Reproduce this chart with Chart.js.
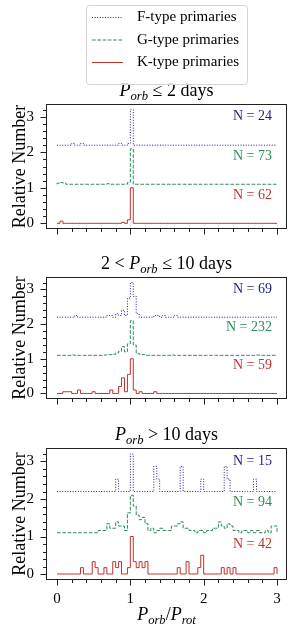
<!DOCTYPE html>
<html>
<head>
<meta charset="utf-8">
<script src="https://cdn.jsdelivr.net/npm/chart.js@4.4.1/dist/chart.umd.min.js"></script>
<style>
  body { margin: 0; background: #fff; }
  #wrap { position: relative; width: 299px; height: 636px; }
  canvas { position: absolute; left: 0; }
</style>
</head>
<body>
<div id="wrap">
  <canvas id="panelShort" width="299" height="250" style="top:0px"></canvas>
  <canvas id="panelMid" width="299" height="170" style="top:250px"></canvas>
  <canvas id="panelLong" width="299" height="216" style="top:420px"></canvas>
</div>
<script>
// bins of P_orb/P_rot, width 0.04 from 0 to 3
const binWidth = 0.04;
const binEdges = Array.from({length: 76}, (_, i) => +(i * binWidth).toFixed(2));
const xTicks = [0, 0.2, 0.4, 0.6, 0.8, 1, 1.2, 1.4, 1.6, 1.8, 2, 2.2, 2.4, 2.6, 2.8, 3];
const yTicks = [0, 0.2, 0.4, 0.6, 0.8, 1, 1.2, 1.4, 1.6, 1.8, 2, 2.2, 2.4, 2.6, 2.8, 3, 3.2];

const seriesLabels = ['F-type primaries', 'G-type primaries', 'K-type primaries'];
const seriesOffsets = [2.2, 1.1, 0];

// P_orb <= 2 days
const fShort = [
  0, 0, 0, 0, 0, 0.05, 0, 0, 0.05, 0, 0, 0, 0, 0, 0,
  0, 0, 0, 0, 0, 0, 0.05, 0, 0, 0.05, 1, 0, 0, 0, 0,
  0, 0, 0, 0, 0, 0, 0, 0, 0, 0, 0, 0, 0, 0, 0,
  0, 0, 0, 0, 0, 0, 0, 0, 0, 0, 0, 0, 0, 0, 0,
  0, 0, 0, 0, 0, 0, 0, 0, 0, 0, 0, 0, 0, 0, 0
];
const gShort = [
  0.03, 0.05, 0.03, 0, 0, 0, 0, 0, 0, 0, 0, 0, 0, 0, 0,
  0, 0, 0.015, 0, 0, 0, 0, 0, 0, 0.05, 1, 0, 0, 0, 0,
  0, 0, 0, 0, 0, 0, 0, 0, 0, 0, 0, 0, 0, 0, 0,
  0, 0, 0, 0, 0, 0, 0, 0, 0, 0, 0, 0, 0, 0, 0,
  0, 0, 0, 0, 0, 0, 0, 0, 0, 0, 0, 0, 0, 0, 0
];
const kShort = [
  0, 0.06, 0, 0, 0, 0, 0, 0, 0, 0, 0, 0, 0, 0, 0,
  0, 0, 0, 0, 0, 0, 0, 0.03, 0, 0.1, 1, 0, 0, 0, 0,
  0, 0, 0, 0, 0, 0, 0, 0, 0, 0, 0, 0, 0, 0, 0,
  0, 0, 0, 0, 0, 0, 0, 0, 0, 0, 0, 0, 0, 0, 0,
  0, 0, 0, 0, 0, 0, 0, 0, 0, 0, 0, 0, 0, 0, 0
];
const countsShort = [24, 73, 62];

// 2 < P_orb <= 10 days
const fMid = [
  0, 0, 0, 0, 0, 0, 0.05, 0, 0, 0, 0, 0, 0, 0, 0,
  0, 0, 0.05, 0.05, 0, 0.1, 0.05, 0.2, 0.05, 0.55, 1, 0.6, 0.1, 0, 0,
  0, 0, 0, 0.05, 0.05, 0, 0.05, 0, 0, 0, 0.05, 0, 0, 0, 0,
  0, 0, 0, 0, 0, 0, 0, 0, 0, 0, 0, 0, 0, 0, 0,
  0, 0, 0, 0, 0, 0, 0, 0, 0, 0, 0, 0, 0, 0, 0
];
const gMid = [
  0, 0, 0, 0, 0, 0.01, 0, 0, 0, 0, 0, 0, 0, 0, 0,
  0, 0.01, 0.02, 0.02, 0.03, 0.07, 0.12, 0.25, 0.1, 0.33, 1, 0.3, 0.06, 0.03, 0.02,
  0, 0, 0, 0, 0, 0, 0, 0, 0, 0.01, 0, 0, 0, 0, 0,
  0, 0, 0, 0, 0, 0, 0, 0, 0, 0, 0, 0, 0, 0, 0,
  0, 0, 0, 0, 0, 0, 0, 0, 0.01, 0, 0, 0, 0, 0, 0
];
const kMid = [
  0, 0, 0.05, 0.05, 0.05, 0, 0, 0.1, 0, 0, 0, 0, 0.05, 0, 0,
  0, 0, 0, 0.1, 0, 0, 0.2, 0.45, 0.05, 0.55, 1, 0.1, 0, 0.05, 0,
  0, 0, 0, 0.05, 0, 0, 0, 0, 0, 0, 0, 0, 0, 0, 0,
  0, 0, 0, 0, 0, 0, 0, 0, 0, 0, 0, 0, 0, 0, 0,
  0, 0, 0, 0, 0, 0, 0, 0, 0, 0, 0, 0, 0, 0, 0
];
const countsMid = [69, 232, 59];

// P_orb > 10 days
const fLong = [
  0, 0, 0, 0, 0, 0, 0, 0, 0, 0, 0, 0, 0, 0, 0,
  0, 0, 0, 0, 0, 0.33, 0, 0, 0, 0, 1, 0, 0, 0, 0,
  0, 0, 0, 0.67, 0.33, 0, 0, 0, 0, 0, 0, 0, 0.67, 0, 0,
  0, 0, 0, 0, 0.33, 0, 0, 0, 0, 0, 0, 0, 0.67, 0.33, 0,
  0, 0, 0, 0, 0, 0, 0, 0.33, 0, 0, 0, 0, 0, 0, 0
];
const gLong = [
  0, 0, 0, 0, 0, 0, 0, 0, 0, 0, 0, 0, 0, 0, 0.06,
  0.06, 0.06, 0.24, 0.12, 0.12, 0.29, 0.18, 0.18, 0.06, 0.53, 1, 0.71, 0.47, 0.35, 0.41,
  0.24, 0.06, 0.12, 0, 0.06, 0.12, 0.06, 0.06, 0.06, 0.18, 0.18, 0.24, 0.29, 0.12, 0.12,
  0.06, 0.06, 0, 0.06, 0.06, 0, 0.06, 0.06, 0.12, 0.12, 0.29, 0.18, 0.12, 0.24, 0.18,
  0.06, 0.06, 0, 0.06, 0.06, 0, 0.06, 0, 0.06, 0, 0, 0.06, 0, 0.18, 0.18
];
const kLong = [
  0, 0, 0, 0, 0, 0, 0, 0, 0.17, 0, 0, 0, 0.33, 0.17, 0,
  0, 0.17, 0, 0, 0.33, 0.17, 0.33, 0, 0, 0.17, 1, 0.33, 0.17, 0.33, 0.17,
  0.33, 0, 0, 0, 0, 0, 0, 0, 0, 0, 0, 0.17, 0, 0, 0.33,
  0, 0, 0, 0.17, 0.5, 0, 0, 0, 0, 0, 0, 0.17, 0, 0.17, 0,
  0.17, 0, 0, 0, 0, 0, 0, 0, 0, 0, 0, 0, 0, 0, 0.17
];
const countsLong = [15, 94, 42];

const colors = ['#1c1c8c', '#2e8b57', '#c4302b'];
const dashes = [[1, 1.6], [3.7, 1.6], []];
const serif = '"Liberation Serif", "DejaVu Serif", "Times New Roman", serif';

Chart.defaults.font.family = serif;
Chart.defaults.color = '#000';

// histogram outline as a step line, starting and ending at the offset baseline
function stepPoints(values, offset) {
    const pts = [{x: binEdges[0], y: offset}];
    values.forEach((v, i) => pts.push({x: binEdges[i], y: v + offset}));
    const last = values.length;
    pts.push({x: binEdges[last], y: values[last - 1] + offset});
    pts.push({x: binEdges[last], y: offset});
    return pts;
}

// mixed italic / subscript text like P_orb
function drawRich(ctx, runs, cx, baseY, size) {
    const fontOf = r => (r.it ? 'italic ' : '') + (r.sub ? size * 0.7 : size) + 'px ' + serif;
    const widths = runs.map(r => { ctx.font = fontOf(r); return ctx.measureText(r.t).width; });
    let xx = cx - widths.reduce((a, b) => a + b, 0) / 2;
    ctx.textAlign = 'left';
    ctx.textBaseline = 'alphabetic';
    ctx.fillStyle = '#000';
    runs.forEach((r, i) => {
        ctx.font = fontOf(r);
        ctx.fillText(r.t, xx, baseY + (r.sub ? size * 0.22 : 0));
        xx += widths[i];
    });
}

const decor = {
    id: 'decor',
    afterDraw(chart, args, opts) {
        const {ctx, chartArea: a, scales: {x, y}} = chart;
        ctx.save();

        // frame
        ctx.strokeStyle = '#222';
        ctx.lineWidth = 1;
        ctx.setLineDash([]);
        ctx.strokeRect(Math.round(a.left) + 0.5, Math.round(a.top) + 0.5,
            Math.round(a.right - a.left) - 1, Math.round(a.bottom - a.top) - 1);

        // outward ticks, long on integers
        ctx.beginPath();
        x.ticks.forEach(t => {
            const px = Math.round(x.getPixelForValue(t.value)) + 0.5;
            const len = Number.isInteger(t.value) ? 5.5 : 3;
            ctx.moveTo(px, a.bottom);
            ctx.lineTo(px, a.bottom + len);
        });
        y.ticks.forEach(t => {
            const py = Math.round(y.getPixelForValue(t.value)) + 0.5;
            const len = Number.isInteger(t.value) ? 5.5 : 3;
            ctx.moveTo(a.left, py);
            ctx.lineTo(a.left - len, py);
        });
        ctx.stroke();

        // N = ... labels
        ctx.font = '14px ' + serif;
        ctx.textAlign = 'right';
        ctx.textBaseline = 'middle';
        opts.counts.forEach((n, i) => {
            ctx.fillStyle = colors[i];
            ctx.fillText('N = ' + n, x.getPixelForValue(2.93), y.getPixelForValue(seriesOffsets[i] + 0.8));
        });

        drawRich(ctx, opts.title, (a.left + a.right) / 2, a.top - 8, 18);

        if (opts.xlabel) {
            drawRich(ctx, [{t: 'P', it: true}, {t: 'orb', it: true, sub: true}, {t: '/'},
                {t: 'P', it: true}, {t: 'rot', it: true, sub: true}], (a.left + a.right) / 2, a.bottom + 40, 18);
        }

        if (opts.legend) {
            ctx.fillStyle = 'rgba(255,255,255,0.8)';
            ctx.strokeStyle = '#d4d4d4';
            ctx.beginPath();
            ctx.roundRect(86.5, 5.5, 161, 79, 3);
            ctx.fill();
            ctx.stroke();
            chart.data.datasets.forEach((ds, i) => {
                const ly = 17.5 + 22.5 * i;
                ctx.strokeStyle = ds.borderColor;
                ctx.setLineDash(ds.borderDash);
                ctx.beginPath();
                ctx.moveTo(92, ly);
                ctx.lineTo(123, ly);
                ctx.stroke();
                ctx.setLineDash([]);
                ctx.fillStyle = '#000';
                ctx.font = '15px ' + serif;
                ctx.textAlign = 'left';
                ctx.textBaseline = 'middle';
                ctx.fillText(ds.label, 137, ly);
            });
        }
        ctx.restore();
    }
};

function drawPanel(canvasId, fVals, gVals, kVals, counts, title, cfg) {
    const ctx = document.getElementById(canvasId).getContext('2d');
    const datasets = [fVals, gVals, kVals].map((vals, i) => ({
        label: seriesLabels[i],
        data: stepPoints(vals, seriesOffsets[i]),
        borderColor: colors[i],
        borderWidth: 1,
        borderDash: dashes[i],
        stepped: true,
        pointRadius: 0,
        fill: false
    }));

    new Chart(ctx, {
        type: 'line',
        data: { datasets: datasets },
        options: {
            responsive: false,
            animation: false,
            events: [],
            layout: { padding: { left: 0, right: 12, top: cfg.top, bottom: cfg.bottom } },
            plugins: {
                legend: { display: false },
                tooltip: { enabled: false },
                decor: { counts: counts, title: title, legend: cfg.legend, xlabel: cfg.xlabel }
            },
            scales: {
                x: {
                    type: 'linear',
                    min: -0.15,
                    max: 3.136,
                    afterBuildTicks: s => { s.ticks = xTicks.map(v => ({value: v})); },
                    afterFit: s => { s.height = cfg.xHeight; },
                    grid: { display: false, drawTicks: false },
                    border: { display: false },
                    ticks: {
                        display: cfg.xlabel,
                        autoSkip: false,
                        maxRotation: 0,
                        padding: 10,
                        font: { size: 15 },
                        callback: v => Number.isInteger(v) ? String(v) : ''
                    }
                },
                y: {
                    min: -0.16,
                    max: 3.36,
                    afterBuildTicks: s => { s.ticks = yTicks.map(v => ({value: v})); },
                    afterFit: s => { s.width = 46; },
                    grid: { display: false, drawTicks: false },
                    border: { display: false },
                    ticks: {
                        autoSkip: false,
                        padding: 12,
                        font: { size: 15 },
                        callback: v => Number.isInteger(v) ? String(v) : ''
                    },
                    title: {
                        display: true,
                        text: 'Relative Number',
                        font: { size: 18 },
                        padding: { top: 9, bottom: 0 }
                    }
                }
            }
        },
        plugins: [decor]
    });
}

const P = {t: 'P', it: true};
const orb = {t: 'orb', it: true, sub: true};

drawPanel('panelShort', fShort, gShort, kShort, countsShort,
    [P, orb, {t: ' \u2264 2 days'}],
    { top: 104, bottom: 6, xHeight: 8, legend: true, xlabel: false });

drawPanel('panelMid', fMid, gMid, kMid, countsMid,
    [{t: '2 < '}, P, orb, {t: ' \u2264 10 days'}],
    { top: 27, bottom: 3, xHeight: 8, legend: false, xlabel: false });

drawPanel('panelLong', fLong, gLong, kLong, countsLong,
    [P, orb, {t: ' > 10 days'}],
    { top: 28, bottom: 0, xHeight: 56, legend: false, xlabel: true });
</script>
</body>
</html>
